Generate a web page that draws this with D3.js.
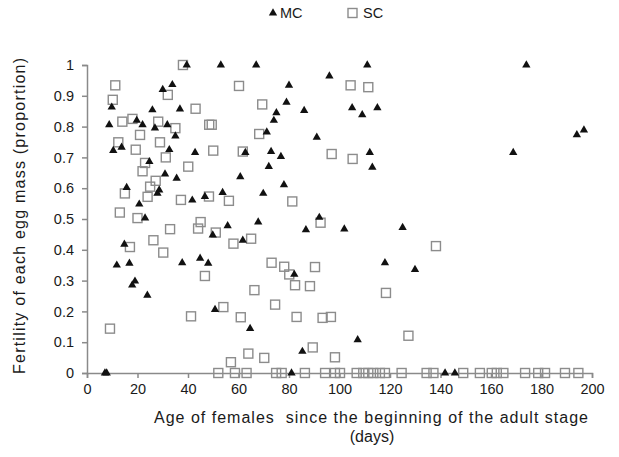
<!DOCTYPE html>
<html>
<head>
<meta charset="utf-8">
<script src="https://cdn.jsdelivr.net/npm/d3@7"></script>
<style>
  body { margin: 0; background: #fff; }
  text { font-family: "Liberation Sans", Arial, sans-serif; fill: #1a1a1a; }
</style>
</head>
<body>
<svg id="chart" width="619" height="457"></svg>
<script>
// MC females: [age in days, fertility]
const mcData = [
  [39.5, 1.0], [9.8, 0.863], [8.8, 0.806], [30, 0.92], [33.8, 0.936], [25.9, 0.854],
  [36.8, 0.857], [19.7, 0.82], [22, 0.806], [26.9, 0.795], [31.8, 0.806], [35, 0.769],
  [53, 1.0], [67, 1.0], [96, 0.964], [80, 0.934], [79, 0.879], [86, 0.852], [75, 0.845],
  [74, 0.82], [71.2, 0.782], [91, 0.765], [111, 1.0], [105, 0.861], [115, 0.861],
  [109, 0.838], [174, 1.0], [196.8, 0.789], [194, 0.773],
  [10.4, 0.722], [13.7, 0.733], [32.6, 0.725], [42.8, 0.716], [24.7, 0.686], [30.9, 0.646],
  [35.5, 0.632], [15.7, 0.602], [28.6, 0.594], [27.9, 0.583], [20.7, 0.548], [23, 0.503],
  [41.7, 0.561], [46.7, 0.573], [14.8, 0.418],
  [62.7, 0.716], [72.9, 0.719], [76.8, 0.703], [72, 0.67], [60.7, 0.637], [78, 0.611],
  [53.7, 0.586], [69.8, 0.583], [55.7, 0.478], [67.8, 0.49], [92, 0.505], [86.7, 0.465],
  [49.8, 0.448], [61.7, 0.431],
  [112, 0.716], [113, 0.668], [101.9, 0.467], [125, 0.472], [168.8, 0.716],
  [11.8, 0.35], [16.8, 0.356], [19, 0.298], [17.9, 0.285], [23.9, 0.252], [37.7, 0.358],
  [44.8, 0.372], [48, 0.356], [7.1, 0], [7.8, 0],
  [50.7, 0.206], [64.6, 0.144], [82.1, 0.32], [85.3, 0.07], [81, 0],
  [118, 0.358], [129.9, 0.336], [107.2, 0.108], [141.8, 0], [145.7, 0]
];

// SC females: [age in days, fertility]
const scData = [
  [38, 1.0], [11.2, 0.934], [10.2, 0.887], [32, 0.903], [43, 0.858], [14, 0.816],
  [18, 0.825], [28.2, 0.816], [21, 0.773], [35, 0.795], [12.4, 0.749], [28.9, 0.749],
  [48.4, 0.806], [60.2, 0.932], [69.4, 0.872], [49.4, 0.806], [68.2, 0.776],
  [104.4, 0.934], [111.4, 0.928],
  [19.3, 0.725], [31.2, 0.70], [23, 0.682], [22, 0.655], [40.1, 0.67], [27.2, 0.624],
  [25, 0.605], [15, 0.583], [24, 0.572], [37.2, 0.562], [13, 0.521], [20, 0.503],
  [32.9, 0.467], [45, 0.49], [44, 0.469], [26.3, 0.431], [30.2, 0.391], [17, 0.409],
  [50, 0.722], [61.7, 0.719], [96.9, 0.711], [48.3, 0.573], [56.2, 0.559], [81.3, 0.557],
  [92.5, 0.488], [51, 0.456], [65, 0.436], [58, 0.42],
  [105.2, 0.695], [138.2, 0.412],
  [9.1, 0.144], [41.2, 0.184], [46.7, 0.315],
  [73.1, 0.358], [78.1, 0.345], [90.3, 0.344], [80.1, 0.32], [82.4, 0.285], [88.3, 0.282],
  [66.3, 0.269], [54, 0.214], [74.5, 0.222], [60.9, 0.181], [83, 0.182], [93.3, 0.179],
  [96.6, 0.182], [89.4, 0.083], [63.9, 0.063], [70.2, 0.049], [57, 0.035], [98.2, 0.051],
  [118.4, 0.26], [127.3, 0.121]
];

// SC females with no fertile egg mass
const scZeroDays = [52, 58.6, 63.2, 74.9, 77.1, 86.3, 94.3, 98.2, 100.2, 106.8, 109.4,
  111.4, 113.4, 116, 118, 124.6, 134.5, 137.2, 149, 155.6, 160.3, 162.3, 164.9, 173.5,
  178.7, 181.4, 189.3, 194.6];

const xTicks = [0, 20, 40, 60, 80, 100, 120, 140, 160, 180, 200];
const yTicks = [0, 0.1, 0.2, 0.3, 0.4, 0.5, 0.6, 0.7, 0.8, 0.9, 1];

const svg = d3.select("#chart");

const x = d3.scaleLinear().domain([0, 200]).range([87, 592]);
const y = d3.scaleLinear().domain([0, 1]).range([373, 65]);

const axisColor = "#8a8a8a";

//x-axis
const gx = svg.append("g")
    .attr("transform", `translate(0, ${y(0)})`)
    .call(d3.axisBottom(x).tickValues(xTicks).tickSize(5).tickPadding(6).tickFormat(d3.format("d")));
gx.select(".domain").attr("stroke", axisColor).attr("stroke-width", 1.5);
gx.selectAll(".tick line").attr("stroke", axisColor).attr("stroke-width", 1.5);
gx.selectAll(".tick text").style("font-size", "14.5px").attr("fill", "#1a1a1a");

//y-axis
const gy = svg.append("g")
    .attr("transform", `translate(${x(0)}, 0)`)
    .call(d3.axisLeft(y).tickValues(yTicks).tickSize(5).tickPadding(8).tickFormat(d => d3.format("~g")(d)));
gy.select(".domain").attr("stroke", axisColor).attr("stroke-width", 1.5);
gy.selectAll(".tick line").attr("stroke", axisColor).attr("stroke-width", 1.5);
gy.selectAll(".tick text").style("font-size", "14.5px").attr("fill", "#1a1a1a");

//squares (SC) drawn first so the triangles sit on top
const scAll = scData.concat(scZeroDays.map(d => [d, 0]));
svg.append("g")
    .selectAll("rect")
    .data(scAll)
    .enter()
    .append("rect")
    .attr("x", d => x(d[0]) - 4.5)
    .attr("y", d => y(d[1]) - 4.5)
    .attr("width", 9)
    .attr("height", 9)
    .attr("fill", "none")
    .attr("stroke", "#8c8c8c")
    .attr("stroke-width", 1.4);

//triangles (MC)
const tri = d3.symbol().type(d3.symbolTriangle).size(30);
svg.append("g")
    .selectAll("path")
    .data(mcData)
    .enter()
    .append("path")
    .attr("d", tri)
    .attr("transform", d => `translate(${x(d[0])}, ${y(d[1])})`)
    .attr("fill", "#111");

//legend
const legend = svg.append("g").attr("transform", "translate(0, 13)");
legend.append("path")
    .attr("d", tri)
    .attr("transform", "translate(273, 0)")
    .attr("fill", "#111");
legend.append("text")
    .attr("x", 280)
    .attr("y", 5)
    .style("font-size", "14.5px")
    .text("MC");
legend.append("rect")
    .attr("x", 348)
    .attr("y", -4.5)
    .attr("width", 9)
    .attr("height", 9)
    .attr("fill", "none")
    .attr("stroke", "#8c8c8c")
    .attr("stroke-width", 1.4);
legend.append("text")
    .attr("x", 363)
    .attr("y", 5)
    .style("font-size", "14.5px")
    .text("SC");

//axis titles
svg.append("text")
    .attr("x", 371)
    .attr("y", 423)
    .attr("text-anchor", "middle")
    .attr("textLength", 434)
    .style("font-size", "16px")
    .style("white-space", "pre")
    .text("Age of females  since the beginning of the adult stage");
svg.append("text")
    .attr("x", 372)
    .attr("y", 442)
    .attr("text-anchor", "middle")
    .style("font-size", "16px")
    .text("(days)");

svg.append("text")
    .attr("transform", "rotate(-90)")
    .attr("x", -216)
    .attr("y", 25)
    .attr("text-anchor", "middle")
    .attr("textLength", 316)
    .style("font-size", "16px")
    .text("Fertility of each egg mass (proportion)");
</script>
</body>
</html>
